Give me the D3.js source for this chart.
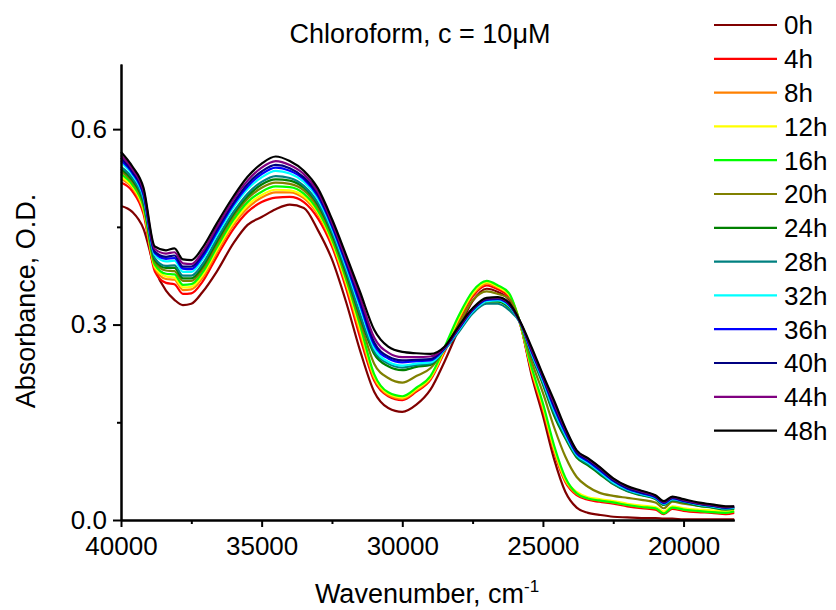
<!DOCTYPE html>
<html lang="en">
<head>
  <meta charset="UTF-8">
  <title>Chloroform absorbance</title>
  <script src="https://d3js.org/d3.v7.min.js"></script>
  <style>
    body {
      margin: 0;
      background: #fff;
      font-family: "Liberation Sans", Arial, sans-serif;
    }
    .line {
      fill: none;
      stroke-width: 2.2px;
      stroke-linejoin: round;
    }
    .axis path, .axis line {
      stroke: #000;
      stroke-width: 2px;
    }
    .axis text {
      font-family: "Liberation Sans", Arial, sans-serif;
      font-size: 26px;
      fill: #000;
    }
  </style>
</head>

<body>
  <svg id="chart" width="836" height="610"></svg>

  <script>
    // wavenumber grid, cm-1
    const wavenumbers = [
      40000, 39600, 39200, 38800, 38400, 38100, 37800, 37500, 37100, 36600,
      36000, 35500, 35000, 34500, 34000, 33500, 33000, 32500, 32000, 31500,
      31000, 30500, 30000, 29500, 29000, 28500, 28000, 27500, 27000, 26600,
      26200, 25800, 25400, 25000, 24600, 24200, 23800, 23400, 23000, 22500,
      22000, 21500, 21000, 20700, 20400, 20000, 19500, 19000, 18500, 18200
    ];

    const seriesNames = ["0h", "4h", "8h", "12h", "16h", "20h", "24h", "28h", "32h", "36h", "40h", "44h", "48h"];
    const seriesColors = ["#800000", "#ff0000", "#ff8000", "#ffff00", "#00ff00", "#808000",
                          "#008000", "#008080", "#00ffff", "#0000ff", "#000080", "#800080", "#000000"];

    const abs0h = [
      .482, .473, .447, .386, .352, .338, .330, .332, .350, .381,
      .425, .453, .465, .477, .484, .479, .445, .400, .335, .260,
      .197, .172, .166, .177, .200, .243, .292, .336, .355, .350,
      .338, .300, .222, .160, .093, .043, .019, .011, .008, .005,
      .004, .003, .003, .002, .002, .001, .001, .001, .001, .001
    ];
    const abs4h = [
      .518, .505, .470, .382, .364, .362, .347, .348, .366, .404,
      .447, .473, .488, .495, .496, .488, .463, .420, .356, .280,
      .214, .190, .184, .197, .215, .258, .305, .343, .360, .354,
      .342, .300, .226, .168, .104, .058, .038, .031, .028, .025,
      .021, .018, .016, .009, .017, .014, .012, .011, .009, .011
    ];
    const abs8h = [
      .524, .510, .475, .387, .370, .369, .353, .354, .372, .410,
      .453, .479, .495, .503, .503, .494, .469, .425, .362, .288,
      .218, .192, .186, .199, .217, .260, .308, .346, .363, .357,
      .345, .300, .229, .172, .107, .060, .040, .033, .030, .027,
      .023, .020, .018, .011, .019, .016, .014, .013, .011, .013
    ];
    const abs12h = [
      .527, .512, .478, .389, .374, .372, .357, .358, .376, .414,
      .457, .483, .499, .507, .506, .497, .472, .428, .366, .293,
      .221, .194, .188, .201, .219, .262, .310, .348, .365, .358,
      .346, .301, .231, .175, .110, .062, .043, .035, .032, .029,
      .025, .022, .020, .013, .021, .018, .016, .015, .013, .015
    ];
    const abs16h = [
      .531, .515, .481, .392, .378, .377, .361, .362, .380, .418,
      .461, .488, .504, .512, .511, .501, .475, .431, .370, .299,
      .224, .196, .190, .203, .221, .265, .313, .351, .367, .360,
      .348, .301, .234, .179, .114, .065, .041, .033, .030, .027,
      .023, .020, .018, .010, .019, .016, .014, .012, .011, .013
    ];
    const abs20h = [
      .535, .519, .485, .396, .383, .382, .367, .367, .385, .423,
      .466, .493, .510, .518, .516, .506, .480, .436, .375, .306,
      .240, .218, .211, .221, .233, .262, .300, .337, .351, .347,
      .340, .302, .243, .195, .142, .097, .066, .051, .042, .037,
      .034, .031, .027, .018, .028, .025, .022, .020, .018, .019
    ];
    const abs24h = [
      .539, .522, .488, .399, .387, .387, .371, .371, .389, .427,
      .470, .497, .515, .523, .521, .510, .484, .439, .379, .312,
      .255, .236, .230, .235, .238, .262, .293, .322, .335, .335,
      .326, .302, .252, .208, .160, .125, .096, .084, .071, .055,
      .044, .038, .032, .023, .030, .027, .022, .019, .016, .017
    ];
    const abs28h = [
      .542, .525, .491, .402, .390, .391, .375, .375, .393, .431,
      .473, .501, .519, .528, .525, .513, .487, .442, .383, .316,
      .259, .240, .234, .238, .240, .261, .288, .317, .332, .332,
      .322, .302, .254, .211, .164, .128, .098, .086, .073, .056,
      .045, .039, .033, .024, .031, .028, .023, .020, .017, .018
    ];
    const abs32h = [
      .549, .530, .496, .407, .397, .398, .381, .381, .400, .437,
      .480, .508, .526, .536, .532, .519, .493, .447, .389, .326,
      .264, .243, .237, .240, .242, .262, .291, .320, .336, .337,
      .328, .302, .256, .214, .168, .131, .100, .088, .075, .058,
      .047, .040, .034, .025, .032, .029, .024, .021, .018, .019
    ];
    const abs36h = [
      .552, .533, .499, .410, .401, .402, .386, .385, .404, .441,
      .484, .512, .531, .541, .536, .523, .497, .451, .393, .331,
      .269, .248, .242, .244, .245, .263, .293, .322, .338, .339,
      .330, .303, .258, .217, .172, .134, .102, .090, .077, .060,
      .048, .041, .035, .026, .033, .029, .025, .022, .019, .020
    ];
    const abs40h = [
      .556, .535, .502, .412, .404, .406, .389, .389, .408, .445,
      .487, .516, .535, .545, .540, .526, .500, .454, .397, .336,
      .273, .251, .245, .246, .247, .264, .294, .323, .339, .340,
      .331, .303, .260, .219, .175, .137, .104, .092, .079, .061,
      .049, .042, .036, .027, .034, .030, .025, .022, .019, .020
    ];
    const abs44h = [
      .560, .539, .506, .416, .409, .411, .394, .393, .412, .449,
      .492, .521, .541, .551, .545, .531, .504, .457, .401, .342,
      .280, .257, .250, .250, .251, .265, .295, .324, .340, .341,
      .332, .303, .262, .221, .179, .139, .106, .094, .081, .063,
      .051, .044, .037, .028, .035, .031, .026, .023, .020, .021
    ];
    const abs48h = [
      .565, .543, .510, .420, .414, .417, .400, .399, .418, .455,
      .497, .527, .547, .558, .551, .536, .509, .462, .407, .350,
      .292, .266, .258, .256, .255, .266, .297, .325, .341, .342,
      .333, .304, .265, .223, .183, .141, .107, .095, .082, .064,
      .052, .045, .038, .029, .036, .032, .027, .024, .021, .021
    ];

    const seriesValues = [abs0h, abs4h, abs8h, abs12h, abs16h, abs20h, abs24h,
                          abs28h, abs32h, abs36h, abs40h, abs44h, abs48h];

    const xMajor = [40000, 35000, 30000, 25000, 20000];
    const xMinor = [37500, 32500, 27500, 22500];
    const yMajor = [0.0, 0.3, 0.6];
    const yMinor = [0.15, 0.45];

    const plot = {left: 121, right: 734.2, top: 64, bottom: 520};

    const svg = d3.select("#chart");

    const x = d3.scaleLinear().domain([40000, 18200]).range([plot.left, plot.right]);
    const y = d3.scaleLinear().domain([0, 0.7]).range([plot.bottom, plot.top]);

    const series = seriesNames.map((name, i) => ({
      name,
      color: seriesColors[i],
      values: wavenumbers.map((w, j) => ({w, a: seriesValues[i][j]}))
    }));

    const line = d3.line()
      .x(d => x(d.w))
      .y(d => y(d.a))
      .curve(d3.curveMonotoneX);

    svg.append("g")
      .selectAll("path")
      .data(series)
      .join("path")
      .attr("class", "line")
      .attr("stroke", d => d.color)
      .attr("d", d => line(d.values));

    // minor ticks first, then major axis on top
    svg.append("g")
      .attr("class", "axis")
      .attr("transform", `translate(0,${plot.bottom})`)
      .call(d3.axisBottom(x).tickValues(xMinor).tickSize(4).tickSizeOuter(0).tickFormat(""));

    svg.append("g")
      .attr("class", "axis")
      .attr("transform", `translate(0,${plot.bottom})`)
      .call(d3.axisBottom(x).tickValues(xMajor).tickSize(7).tickSizeOuter(0).tickPadding(10).tickFormat(d3.format("d")));

    svg.append("g")
      .attr("class", "axis")
      .attr("transform", `translate(${plot.left},0)`)
      .call(d3.axisLeft(y).tickValues(yMinor).tickSize(4).tickSizeOuter(0).tickFormat(""));

    svg.append("g")
      .attr("class", "axis")
      .attr("transform", `translate(${plot.left},0)`)
      .call(d3.axisLeft(y).tickValues(yMajor).tickSize(8).tickSizeOuter(0).tickPadding(6).tickFormat(d3.format(".1f")));

    // titles
    svg.append("text")
      .attr("x", 420)
      .attr("y", 43)
      .attr("text-anchor", "middle")
      .style("font-size", "27px")
      .text("Chloroform, c = 10\u03bcM");

    const xTitle = svg.append("text")
      .attr("x", 427)
      .attr("y", 603)
      .attr("text-anchor", "middle")
      .style("font-size", "27px");
    xTitle.append("tspan").text("Wavenumber, cm");
    xTitle.append("tspan")
      .attr("dy", -11)
      .style("font-size", "17px")
      .text("-1");

    svg.append("text")
      .attr("transform", "translate(35,301) rotate(-90)")
      .attr("text-anchor", "middle")
      .style("font-size", "27px")
      .text("Absorbance, O.D.");

    // legend
    const legend = svg.append("g")
      .selectAll("g")
      .data(series)
      .join("g")
      .attr("transform", (d, i) => `translate(714,${25 + i * 33.8})`);

    legend.append("line")
      .attr("x1", 0)
      .attr("x2", 63)
      .attr("stroke", d => d.color)
      .attr("stroke-width", 2.2);

    legend.append("text")
      .attr("x", 70)
      .attr("dy", "0.36em")
      .style("font-size", "26px")
      .text(d => d.name);
  </script>
</body>
</html>
